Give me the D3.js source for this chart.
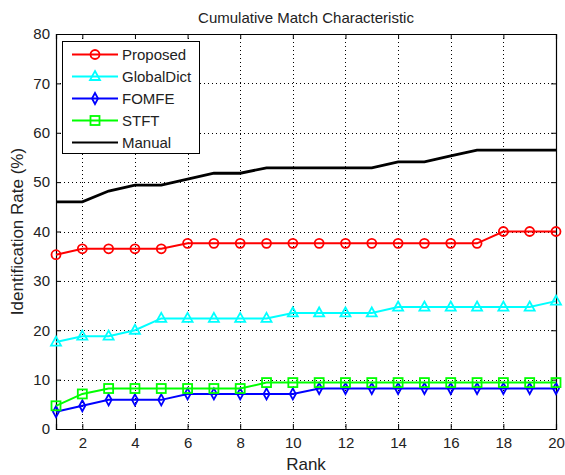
<!DOCTYPE html>
<html>
<head>
<meta charset="utf-8">
<script src="https://cdn.jsdelivr.net/npm/d3@7"></script>
<style>
  body { margin: 0; background: #fff; }
  svg { font-family: "Liberation Sans", Arial, sans-serif; }
</style>
</head>
<body>
<div id="chart"></div>
<script>
(function () {
    // data (rank 1..20, percent)
    var ranks = d3.range(1, 21);
    var proposed    = [35.3, 36.5, 36.5, 36.5, 36.5, 37.6, 37.6, 37.6, 37.6, 37.6, 37.6, 37.6, 37.6, 37.6, 37.6, 37.6, 37.6, 40.0, 40.0, 40.0];
    var globalDict  = [17.6, 18.8, 18.8, 20.0, 22.4, 22.4, 22.4, 22.4, 22.4, 23.5, 23.5, 23.5, 23.5, 24.7, 24.7, 24.7, 24.7, 24.7, 24.7, 25.9];
    var fomfe       = [3.5, 4.7, 5.9, 5.9, 5.9, 7.1, 7.1, 7.1, 7.1, 7.1, 8.2, 8.2, 8.2, 8.2, 8.2, 8.2, 8.2, 8.2, 8.2, 8.2];
    var stft        = [4.7, 7.1, 8.2, 8.2, 8.2, 8.2, 8.2, 8.2, 9.4, 9.4, 9.4, 9.4, 9.4, 9.4, 9.4, 9.4, 9.4, 9.4, 9.4, 9.4];
    var manual      = [46.0, 46.0, 48.2, 49.4, 49.4, 50.6, 51.8, 51.8, 52.9, 52.9, 52.9, 52.9, 52.9, 54.1, 54.1, 55.3, 56.5, 56.5, 56.5, 56.5];
    var seriesNames = ['Proposed', 'GlobalDict', 'FOMFE', 'STFT', 'Manual'];
    var seriesColors = ['#ff0000', '#00ffff', '#0000ff', '#00ff00', '#000000'];
    var seriesMarkers = ['circle', 'triangle', 'diamond', 'square', 'none'];
    var xTicks = [2, 4, 6, 8, 10, 12, 14, 16, 18, 20];
    var yTicks = [0, 10, 20, 30, 40, 50, 60, 70, 80];

    var seriesValues = [proposed, globalDict, fomfe, stft, manual];

    var W = 565, H = 475;
    var left = 56, top = 34, w = 500, h = 395;

    var svg = d3.select('#chart')
        .append('svg')
            .attr('width', W)
            .attr('height', H);

    var x = d3.scaleLinear().domain([1, 20]).range([left, left + w]);
    var y = d3.scaleLinear().domain([0, 80]).range([top + h, top]);

    // dotted grid
    var grid = svg.append('g').attr('stroke', '#000').attr('stroke-width', 1)
        .attr('stroke-dasharray', '1,3');
    grid.selectAll('.gx').data(xTicks).enter().append('line')
        .attr('x1', function (d) { return Math.round(x(d)) + 0.5; })
        .attr('x2', function (d) { return Math.round(x(d)) + 0.5; })
        .attr('y1', top).attr('y2', top + h);
    grid.selectAll('.gy').data(yTicks.slice(1, -1)).enter().append('line')
        .attr('y1', function (d) { return Math.round(y(d)) + 0.5; })
        .attr('y2', function (d) { return Math.round(y(d)) + 0.5; })
        .attr('x1', left).attr('x2', left + w);

    // axes (MATLAB style: ticks inside, box on all sides)
    var tickLen = 5;
    var ax = svg.append('g');
    ax.append('g')
        .attr('transform', 'translate(0,' + (top + h) + ')')
        .call(d3.axisBottom(x).tickValues(xTicks).tickSize(-tickLen).tickPadding(8));
    ax.append('g')
        .attr('transform', 'translate(0,' + top + ')')
        .call(d3.axisTop(x).tickValues(xTicks).tickSize(-tickLen).tickFormat(''));
    ax.append('g')
        .attr('transform', 'translate(' + left + ',0)')
        .call(d3.axisLeft(y).tickValues(yTicks).tickSize(-tickLen).tickPadding(6));
    ax.append('g')
        .attr('transform', 'translate(' + (left + w) + ',0)')
        .call(d3.axisRight(y).tickValues(yTicks).tickSize(-tickLen).tickFormat(''));
    ax.selectAll('.domain').attr('stroke', '#000').attr('stroke-width', 1.2);
    ax.selectAll('.tick line').attr('stroke', '#000');
    ax.selectAll('.tick text').attr('fill', '#222').attr('font-size', 15)
        .attr('font-family', '"Liberation Sans", Arial, sans-serif');

    // markers
    function drawMarker(sel, type, color) {
        if (type === 'circle') {
            sel.append('circle').attr('r', 4.5);
        } else if (type === 'triangle') {
            sel.append('path').attr('d', 'M0,-5.5L5,3.5L-5,3.5Z');
        } else if (type === 'diamond') {
            sel.append('path').attr('d', 'M0,-5.5L3,0L0,5.5L-3,0Z');
        } else if (type === 'square') {
            sel.append('rect').attr('x', -4.5).attr('y', -4.5).attr('width', 9).attr('height', 9);
        }
        sel.selectAll('circle,path,rect')
            .attr('fill', 'none')
            .attr('stroke', color)
            .attr('stroke-width', 1.8);
    }

    var line = d3.line()
        .x(function (d, i) { return x(ranks[i]); })
        .y(function (d) { return y(d); });

    var plot = svg.append('g');
    seriesValues.forEach(function (vals, k) {
        var g = plot.append('g');
        g.append('path')
            .datum(vals)
            .attr('d', line)
            .attr('fill', 'none')
            .attr('stroke', seriesColors[k])
            .attr('stroke-width', k === 4 ? 2.8 : 2);
        if (seriesMarkers[k] !== 'none') {
            g.selectAll('.m').data(vals).enter().append('g')
                .attr('transform', function (d, i) { return 'translate(' + x(ranks[i]) + ',' + y(d) + ')'; })
                .each(function () { drawMarker(d3.select(this), seriesMarkers[k], seriesColors[k]); });
        }
    });

    // legend
    var lg = svg.append('g').attr('transform', 'translate(62,41)');
    lg.append('rect')
        .attr('x', 0.5).attr('y', 0.5)
        .attr('width', 137).attr('height', 112)
        .attr('fill', '#fff')
        .attr('stroke', '#000')
        .attr('stroke-width', 1);
    seriesNames.forEach(function (name, k) {
        var row = lg.append('g').attr('transform', 'translate(0,' + (13.5 + k * 22) + ')');
        row.append('line')
            .attr('x1', 10).attr('x2', 56)
            .attr('stroke', seriesColors[k])
            .attr('stroke-width', k === 4 ? 2.2 : 2);
        if (seriesMarkers[k] !== 'none') {
            var m = row.append('g').attr('transform', 'translate(33,0)');
            drawMarker(m, seriesMarkers[k], seriesColors[k]);
        }
        row.append('text')
            .attr('x', 60).attr('y', 5.5)
            .attr('font-size', 15)
            .attr('fill', '#222')
            .text(name);
    });

    // title and axis labels
    svg.append('text')
        .attr('x', left + w / 2).attr('y', 23)
        .attr('text-anchor', 'middle')
        .attr('font-size', 15)
        .attr('fill', '#222')
        .text('Cumulative Match Characteristic');
    svg.append('text')
        .attr('x', left + w / 2).attr('y', 470)
        .attr('text-anchor', 'middle')
        .attr('font-size', 17)
        .attr('fill', '#222')
        .text('Rank');
    svg.append('text')
        .attr('transform', 'translate(23,' + (top + h / 2) + ') rotate(-90)')
        .attr('text-anchor', 'middle')
        .attr('font-size', 17)
        .attr('fill', '#222')
        .text('Identification Rate (%)');
})();
</script>
</body>
</html>
